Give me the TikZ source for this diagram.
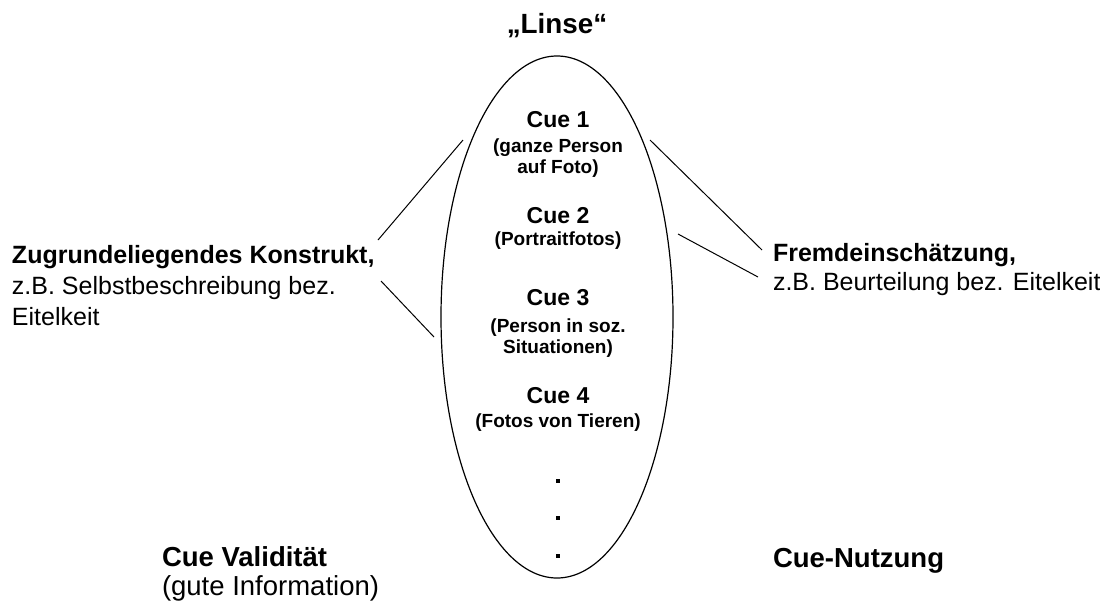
\documentclass[tikz,border=0pt]{standalone}
\usepackage{fontspec}
\setmainfont{Liberation Sans}
\usetikzlibrary{shapes.geometric}
\begin{document}
\begin{tikzpicture}[x=1pt,y=-1pt,
  every node/.style={inner sep=0pt, outer sep=0pt},
  lblb/.style={font=\bfseries\fontsize{25}{30}\selectfont, anchor=base west},
  lblr/.style={font=\fontsize{25}{30}\selectfont, anchor=base west},
  botb/.style={font=\bfseries\fontsize{27.5}{32}\selectfont, anchor=base west},
  botr/.style={font=\fontsize{27.5}{32}\selectfont, anchor=base west},
  cuet/.style={font=\bfseries\fontsize{23}{26}\selectfont, anchor=base},
  cues/.style={font=\bfseries\fontsize{19}{21}\selectfont, anchor=base},
  conn/.style={draw, line width=1pt},
  dotn/.style={fill, minimum size=4.5pt, inner sep=0pt}]
\useasboundingbox (0,0) rectangle (1100,606);
\node[draw, ellipse, line width=1.2pt, minimum width=232pt, minimum height=522pt] (lens) at (557,317) {};
\node[font=\bfseries\fontsize{27.8}{32}\selectfont, anchor=base] (title) at (557,33) {„Linse“};
\node[cuet] (c1) at (558,127) {Cue 1};
\node[cues] (c1s) at (558,152) {(ganze Person};
\node[cues] (c1t) at (558,173) {auf Foto)};
\node[cuet] (c2) at (558,223) {Cue 2};
\node[cues] (c2s) at (558,245) {(Portraitfotos)};
\node[cuet] (c3) at (558,305) {Cue 3};
\node[cues] (c3s) at (558,332) {(Person in soz.};
\node[cues] (c3t) at (558,353) {Situationen)};
\node[cuet] (c4) at (558,403) {Cue 4};
\node[cues] (c4s) at (558,427) {(Fotos von Tieren)};
\node[dotn] (d1) at (558,481) {};
\node[dotn] (d2) at (558,518) {};
\node[dotn] (d3) at (558,556) {};
\node[lblb] (left1) at (12,263) {Zugrundeliegendes Konstrukt,};
\node[lblr] (left2) at (12,294) {z.B. Selbstbeschreibung bez.};
\node[lblr] (left3) at (12,325) {Eitelkeit};
\node[lblb] (right1) at (773,261) {Fremdeinschätzung,};
\node[lblr] (right2) at (773,290) {z.B. Beurteilung bez. Eitelkeit};
\node[botb] (valid1) at (162,566) {Cue Validität};
\node[botr] (valid2) at (162,595) {(gute Information)};
\node[botb] (use) at (773,567) {Cue-Nutzung};
\coordinate (la1) at (463,140);
\coordinate (la2) at (378,240);
\coordinate (lb1) at (381,281);
\coordinate (lb2) at (434,337);
\coordinate (ra1) at (650,140);
\coordinate (ra2) at (762,250);
\coordinate (rb1) at (678,234);
\coordinate (rb2) at (758,277);
\draw[conn] (la1) -- (la2);
\draw[conn] (lb1) -- (lb2);
\draw[conn] (ra1) -- (ra2);
\draw[conn] (rb1) -- (rb2);
\end{tikzpicture}
\end{document}
